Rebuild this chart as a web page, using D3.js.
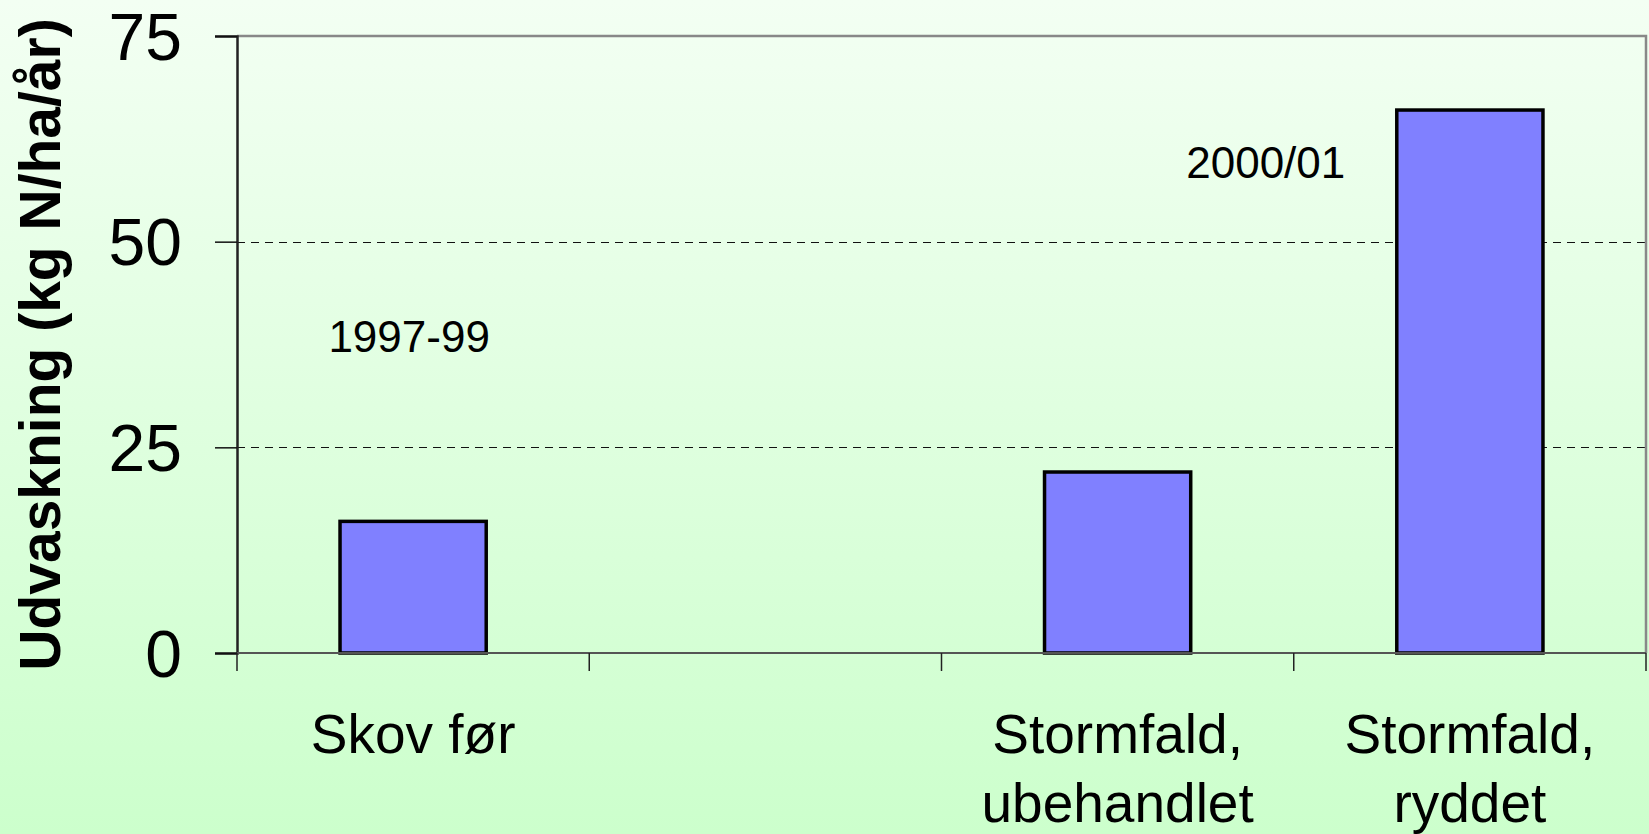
<!DOCTYPE html>
<html>
<head>
<meta charset="utf-8">
<script src="https://cdn.jsdelivr.net/npm/d3@7"></script>
<style>
  html, body { margin: 0; padding: 0; overflow: hidden; }
  svg { display: block; font-family: "Liberation Sans", Arial, sans-serif; }
</style>
</head>
<body>
<div id="chart"></div>
<script>
// data
const categories = ['Skov før', '', 'Stormfald,\nubehandlet', 'Stormfald,\nryddet'];
const values = [16, null, 22, 66];
const yTicks = [0, 25, 50, 75];
const periodLabels = ['1997-99', '2000/01'];
const yTitle = 'Udvaskning (kg N/ha/år)';

const width = 1649;
const height = 834;
const margin = { top: 36, right: 3, bottom: 181, left: 237 };
const w = width - margin.left - margin.right;
const h = height - margin.top - margin.bottom;

const svg = d3.select('#chart').append('svg')
  .attr('width', width)
  .attr('height', height);

// background gradient
const grad = svg.append('defs').append('linearGradient')
  .attr('id', 'bg')
  .attr('x1', 0).attr('y1', 0).attr('x2', 0).attr('y2', 1);
grad.append('stop').attr('offset', '0%').attr('stop-color', '#f3fff3');
grad.append('stop').attr('offset', '100%').attr('stop-color', '#ccffcc');

svg.append('rect')
  .attr('width', width)
  .attr('height', height)
  .attr('fill', 'url(#bg)');

const g = svg.append('g')
  .attr('transform', 'translate(' + margin.left + ',' + margin.top + ')');

const x = d3.scaleBand()
  .domain(categories)
  .range([0, w])
  .paddingInner(0.585)
  .paddingOuter(0.2925);

const y = d3.scaleLinear()
  .domain([0, 75])
  .range([h, 0]);

// dashed gridlines (inner ones only)
g.append('g')
  .selectAll('line')
  .data(yTicks.filter(d => d > 0 && d < 75))
  .join('line')
    .attr('x1', 0)
    .attr('x2', w)
    .attr('y1', d => Math.round(y(d)) + 0.5)
    .attr('y2', d => Math.round(y(d)) + 0.5)
    .attr('stroke', '#111')
    .attr('stroke-width', 1.2)
    .attr('stroke-dasharray', '8,6');

// top and right frame
g.append('path')
  .attr('d', 'M0,' + y(75) + 'H' + w + 'V' + y(0))
  .attr('fill', 'none')
  .attr('stroke', '#888')
  .attr('stroke-width', 2.5);

// bars
g.append('g')
  .selectAll('rect')
  .data(categories.map((c, i) => ({ c: c, v: values[i] })).filter(d => d.v != null))
  .join('rect')
    .attr('x', d => x(d.c))
    .attr('y', d => y(d.v))
    .attr('width', x.bandwidth())
    .attr('height', d => y(0) - y(d.v))
    .attr('fill', '#8080ff')
    .attr('stroke', '#000')
    .attr('stroke-width', 3.5);

// y axis
const yAxis = d3.axisLeft(y)
  .tickValues(yTicks)
  .tickSize(22)
  .tickPadding(33);

const ya = g.append('g').call(yAxis);
ya.select('.domain').attr('stroke', '#222').attr('stroke-width', 2.5);
ya.selectAll('.tick line').attr('stroke', '#111').attr('stroke-width', 1.5);
ya.selectAll('.tick text')
  .attr('fill', '#000')
  .style('font-size', '66px')
  .attr('dy', '0.35em');

// x axis line
g.append('line')
  .attr('x1', 0).attr('x2', w)
  .attr('y1', h).attr('y2', h)
  .attr('stroke', '#555')
  .attr('stroke-width', 2);

// x ticks at the band edges
g.append('g')
  .selectAll('line')
  .data(d3.range(categories.length + 1))
  .join('line')
    .attr('x1', i => x.range()[0] + i * x.step())
    .attr('x2', i => x.range()[0] + i * x.step())
    .attr('y1', h)
    .attr('y2', h + 18)
    .attr('stroke', '#222')
    .attr('stroke-width', 1.5);

// x labels, split on line breaks
const xl = g.append('g')
  .selectAll('text')
  .data(categories)
  .join('text')
    .attr('x', d => x(d) + x.bandwidth() / 2)
    .attr('y', h + 100)
    .attr('text-anchor', 'middle')
    .style('font-size', '55px')
    .attr('fill', '#000');

xl.selectAll('tspan')
  .data(d => d.split('\n'))
  .join('tspan')
    .attr('x', function () { return d3.select(this.parentNode).attr('x'); })
    .attr('dy', (d, i) => i === 0 ? 0 : 69)
    .text(d => d);

// period annotations
g.append('text')
  .attr('x', x(categories[0]) + x.bandwidth() / 2 - 4)
  .attr('y', y(36.6))
  .attr('text-anchor', 'middle')
  .style('font-size', '44px')
  .text(periodLabels[0]);

g.append('text')
  .attr('x', x.range()[0] + 3 * x.step() - 28)
  .attr('y', y(57.7))
  .attr('text-anchor', 'middle')
  .style('font-size', '44px')
  .text(periodLabels[1]);

// y axis title
svg.append('text')
  .attr('transform', 'translate(60,' + (margin.top + h / 2) + ') rotate(-90)')
  .attr('text-anchor', 'middle')
  .style('font-size', '57px')
  .style('font-weight', 'bold')
  .text(yTitle);
</script>
</body>
</html>
